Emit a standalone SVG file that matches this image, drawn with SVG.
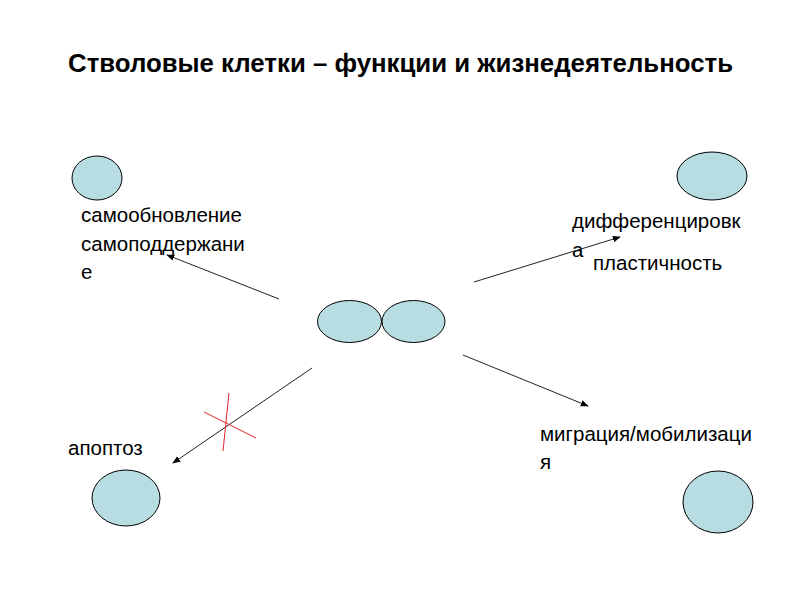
<svg xmlns="http://www.w3.org/2000/svg" width="800" height="600" viewBox="0 0 800 600">
<defs>
<style>
.cell{fill:#b7dde2;stroke:#000;stroke-width:1}
.lbl{font-family:"Liberation Sans",Arial,sans-serif;font-size:20.5px;fill:#000}
.title{font-family:"Liberation Sans",Arial,sans-serif;font-size:25px;font-weight:bold;fill:#000}
.conn{stroke:#222;stroke-width:1;fill:none;marker-end:url(#ah)}
.red{stroke:#e0202a;stroke-width:1}
</style>
<marker id="ah" viewBox="0 0 10 10" refX="9" refY="5" markerWidth="8" markerHeight="8" orient="auto" markerUnits="userSpaceOnUse">
<path d="M0,1 L10,5 L0,9 z" fill="#000"/>
</marker>
</defs>
<rect width="800" height="600" fill="#fff"/>
<text class="title" x="68" y="72" textLength="665" lengthAdjust="spacingAndGlyphs">Стволовые клетки – функции и жизнедеятельность</text>
<g id="center">
<ellipse class="cell" cx="349.5" cy="321.5" rx="32" ry="21"/>
<ellipse class="cell" cx="413.5" cy="321.5" rx="31.5" ry="21"/>
</g>
<g id="selfrenewal">
<ellipse class="cell" cx="97" cy="178" rx="25" ry="22"/>
<text class="lbl" x="81" y="222">самообновление</text>
<text class="lbl" x="81" y="251">самоподдержани</text>
<text class="lbl" x="81" y="279">е</text>
</g>
<g id="differentiation">
<ellipse class="cell" cx="712" cy="176" rx="35" ry="24"/>
<text class="lbl" x="572" y="228">дифференцировк</text>
<text class="lbl" x="572" y="257">а</text>
<text class="lbl" x="593" y="270">пластичность</text>
</g>
<g id="apoptosis">
<ellipse class="cell" cx="126" cy="498" rx="34" ry="28"/>
<text class="lbl" x="68" y="455">апоптоз</text>
</g>
<g id="migration">
<ellipse class="cell" cx="718" cy="502" rx="35" ry="31"/>
<text class="lbl" x="540" y="441">миграция/мобилизаци</text>
<text class="lbl" x="540" y="469">я</text>
</g>
<g id="connectors">
<line class="conn" x1="279" y1="299" x2="167" y2="255"/>
<line class="conn" x1="474" y1="282" x2="620" y2="237"/>
<line class="conn" x1="312" y1="368" x2="173" y2="463"/>
<line class="conn" x1="463" y1="355" x2="588" y2="406"/>
<line class="red" x1="204" y1="412" x2="256" y2="438"/>
<line class="red" x1="229" y1="393" x2="223" y2="451"/>
</g>
</svg>
